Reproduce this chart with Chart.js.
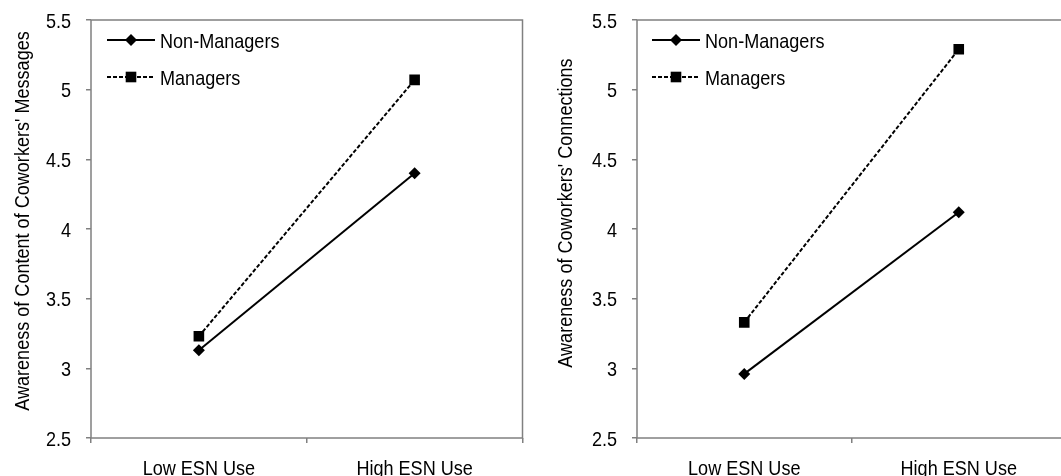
<!DOCTYPE html>
<html>
<head>
<meta charset="utf-8">
<script src="https://cdn.jsdelivr.net/npm/chart.js@4.4.0/dist/chart.umd.min.js"></script>
<style>
  html, body { margin: 0; padding: 0; background: #fff; overflow: hidden; }
  #wrap { position: relative; width: 1061px; height: 476px; overflow: hidden; }
  #leftChart { position: absolute; left: 0; top: 0; }
  #rightChart { position: absolute; left: 530px; top: 0; }
</style>
</head>
<body>
<div id="wrap">
  <canvas id="leftChart" width="530" height="476"></canvas>
  <canvas id="rightChart" width="545" height="476"></canvas>
</div>
<script>
const categories = ['Low ESN Use', 'High ESN Use'];
const seriesNames = ['Non-Managers', 'Managers'];
const messagesNonManagers = [3.13, 4.40];
const messagesManagers = [3.23, 5.07];
const connectionsNonManagers = [2.96, 4.12];
const connectionsManagers = [3.33, 5.29];
const yTicks = [2.5, 3, 3.5, 4, 4.5, 5, 5.5];
const yTitles = ["Awareness of Content of Coworkers' Messages", "Awareness of Coworkers' Connections"];

// no narrow font installed, so the Arial Narrow look is faked by squeezing Liberation Sans
const FONT = "21px 'Liberation Sans', Arial, sans-serif";
const SQUEEZE = 0.86;
const AXIS_GRAY = '#808080';

function condensedText(ctx, text, x, y, align) {
    ctx.save();
    ctx.translate(x, y);
    ctx.scale(SQUEEZE, 1);
    ctx.font = FONT;
    ctx.fillStyle = '#000';
    ctx.textAlign = align;
    ctx.textBaseline = 'alphabetic';
    ctx.fillText(text, 0, 0);
    ctx.restore();
}

function drawMarker(ctx, style, r, x, y) {
    ctx.beginPath();
    if (style === 'rectRot') {
        ctx.moveTo(x, y - r);
        ctx.lineTo(x + r, y);
        ctx.lineTo(x, y + r);
        ctx.lineTo(x - r, y);
    } else {
        const h = r * Math.SQRT1_2;
        ctx.rect(x - h, y - h, 2 * h, 2 * h);
    }
    ctx.closePath();
    ctx.fill();
}

// plot box around the chart area
const boxPlugin = {
    id: 'box',
    beforeDatasetsDraw(chart) {
        const a = chart.chartArea;
        const ctx = chart.ctx;
        ctx.save();
        ctx.strokeStyle = AXIS_GRAY;
        ctx.lineWidth = 1.5;
        ctx.strokeRect(a.left, a.top, a.right - a.left, a.bottom - a.top);
        ctx.restore();
    }
};

// tick labels, placed with the chart's own scales
const tickLabels = {
    id: 'tickLabels',
    afterDraw(chart) {
        const ctx = chart.ctx;
        const xs = chart.scales.x, ys = chart.scales.y;
        chart.data.labels.forEach((lab, i) => {
            condensedText(ctx, lab, xs.getPixelForTick(i), 475, 'center');
        });
        yTicks.forEach(v => {
            condensedText(ctx, String(v), chart.chartArea.left - 20, ys.getPixelForValue(v) + 7.5, 'right');
        });
    }
};

// legend inside the plot, with line sample + marker
const insideLegend = {
    id: 'insideLegend',
    afterDatasetsDraw(chart, args, opts) {
        const ctx = chart.ctx;
        const x0 = chart.chartArea.left + opts.dx;
        chart.data.datasets.forEach((ds, i) => {
            const y = chart.chartArea.top + opts.dy + i * opts.rowGap;
            ctx.save();
            ctx.strokeStyle = ds.borderColor;
            ctx.lineWidth = ds.borderWidth;
            ctx.setLineDash(ds.borderDash || []);
            ctx.beginPath();
            ctx.moveTo(x0, y);
            ctx.lineTo(x0 + opts.lineLen, y);
            ctx.stroke();
            ctx.setLineDash([]);
            ctx.fillStyle = ds.pointBackgroundColor;
            drawMarker(ctx, ds.pointStyle, ds.pointRadius, x0 + opts.lineLen / 2, y);
            ctx.restore();
            condensedText(ctx, ds.label, x0 + opts.lineLen + 5, y + 7.5, 'left');
        });
    }
};

// rotated y axis title
const yTitlePlugin = {
    id: 'yTitle',
    afterDraw(chart, args, opts) {
        const ctx = chart.ctx;
        ctx.save();
        ctx.translate(opts.x, opts.y);
        ctx.rotate(-Math.PI / 2);
        condensedText(ctx, opts.text, 0, 0, 'center');
        ctx.restore();
    }
};

function makeChart(canvasId, nonMgr, mgr, opts) {
    const ctx = document.getElementById(canvasId).getContext('2d');
    return new Chart(ctx, {
        type: 'line',
        data: {
            labels: categories,
            datasets: [{
                label: seriesNames[0],
                data: nonMgr,
                borderColor: '#000',
                borderWidth: 2,
                tension: 0,
                pointStyle: 'rectRot',
                pointRadius: 6,
                pointBorderWidth: 0,
                pointBackgroundColor: '#000'
            }, {
                label: seriesNames[1],
                data: mgr,
                borderColor: '#000',
                borderWidth: 2,
                borderDash: [4, 2],
                tension: 0,
                pointStyle: 'rect',
                pointRadius: 7.5,
                pointBorderWidth: 0,
                pointBackgroundColor: '#000'
            }]
        },
        options: {
            responsive: false,
            animation: false,
            devicePixelRatio: 1,
            layout: { padding: { top: 20, right: opts.padRight, left: 0, bottom: 0 } },
            plugins: {
                legend: { display: false },
                tooltip: { enabled: false },
                insideLegend: { dx: opts.legendDx, dy: 20, rowGap: 37, lineLen: 48 },
                yTitle: { text: opts.title, x: opts.titleX, y: opts.titleY }
            },
            scales: {
                x: {
                    offset: true,
                    grid: {
                        offset: true,
                        drawOnChartArea: false,
                        drawTicks: true,
                        tickLength: 5,
                        color: AXIS_GRAY,
                        lineWidth: 1.5
                    },
                    border: { display: false },
                    ticks: { display: false },
                    afterFit(scale) { scale.height = 38; }
                },
                y: {
                    min: 2.5,
                    max: 5.5,
                    afterBuildTicks(scale) { scale.ticks = yTicks.map(v => ({ value: v })); },
                    grid: {
                        drawOnChartArea: false,
                        drawTicks: true,
                        tickLength: 5,
                        color: AXIS_GRAY,
                        lineWidth: 1.5
                    },
                    border: { display: false },
                    ticks: { display: false },
                    afterFit(scale) { scale.width = opts.yWidth; }
                }
            }
        },
        plugins: [boxPlugin, insideLegend, tickLabels, yTitlePlugin]
    });
}

makeChart('leftChart', messagesNonManagers, messagesManagers, {
    yWidth: 91, padRight: 6, legendDx: 16, title: yTitles[0], titleX: 29, titleY: 221
});
makeChart('rightChart', connectionsNonManagers, connectionsManagers, {
    yWidth: 107, padRight: 9, legendDx: 15, title: yTitles[1], titleX: 42, titleY: 213
});
</script>
</body>
</html>
